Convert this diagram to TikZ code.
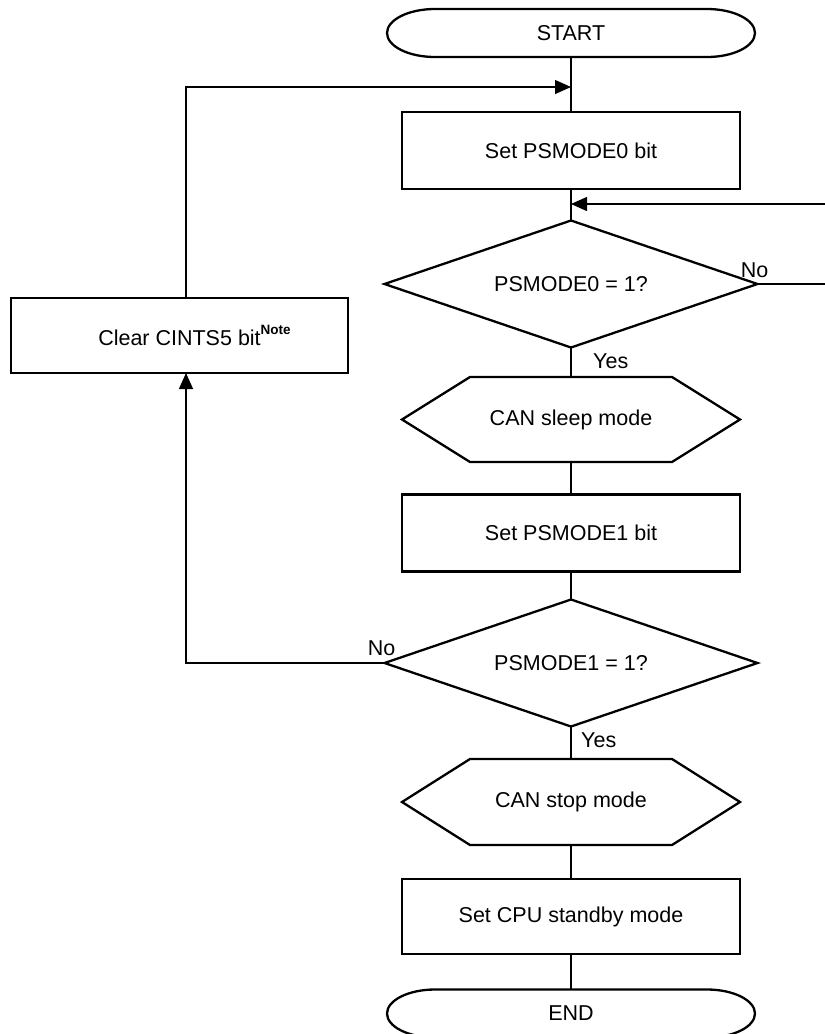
\documentclass[tikz,border=0pt]{standalone}
\usepackage{fontspec}
\setmainfont{Liberation Sans}
\usetikzlibrary{shapes.geometric,arrows.meta,calc}
\newcommand\hexdraw[1]{\draw[shapeline] ([xshift=68pt]#1.north west) -- ([xshift=-68pt]#1.north east) -- (#1.east) -- ([xshift=-68pt]#1.south east) -- ([xshift=68pt]#1.south west) -- (#1.west) -- cycle;}
\newcommand\termdraw[1]{\draw[shapeline] ([xshift=48pt]#1.north west) -- ([xshift=-48pt]#1.north east) arc[start angle=90,end angle=-90,x radius=48pt,y radius=24pt] -- ([xshift=48pt]#1.south west) arc[start angle=270,end angle=90,x radius=48pt,y radius=24pt] -- cycle;}
\tikzset{
  txt/.style={font=\fontsize{21.5}{25}\selectfont},
  shapeline/.style={line width=2.3pt, line join=miter},
  procbox/.style={txt, draw, shapeline, minimum width=338pt, minimum height=77pt, inner sep=0pt, outer sep=0pt},
  decide/.style={txt, diamond, draw, shapeline, minimum width=373pt, minimum height=127pt, aspect=2.9, inner sep=0pt, outer sep=0pt},
  hexbox/.style={txt, minimum width=338pt, minimum height=85pt, inner sep=0pt, outer sep=0pt},
  termbox/.style={txt, minimum width=368pt, minimum height=48pt, inner sep=0pt, outer sep=0pt},
  conn/.style={line width=1.3pt},
  arr/.style={conn, -{Triangle[length=16pt,width=14pt]}},
  lbl/.style={txt, inner sep=0pt}
}
\begin{document}
\begin{tikzpicture}[x=1pt,y=-1pt]
\useasboundingbox (0,0) rectangle (825,1034);
% nodes
\node[termbox] (start) at (571,33) {START};
\node[procbox] (box1) at (571,150.5) {Set PSMODE0 bit};
\node[decide] (d1) at (571,284) {PSMODE0 = 1?};
\node[hexbox] (hex1) at (571,419.5) {CAN sleep mode};
\node[procbox] (box2) at (571,533) {Set PSMODE1 bit};
\node[decide] (d2) at (571,663) {PSMODE1 = 1?};
\node[hexbox, minimum height=86pt] (hex2) at (571,802) {CAN stop mode};
\node[procbox, minimum height=75pt] (box3) at (571,916.5) {Set CPU standby mode};
\node[termbox] (end) at (571,1013.5) {END};
\node[procbox, minimum width=337pt, minimum height=75pt] (clear) at (179.5,335.5) {Clear CINTS5 bit\rlap{\raisebox{11pt}{\fontsize{13.5}{13.5}\selectfont\bfseries Note}}};
\termdraw{start}
\termdraw{end}
\hexdraw{hex1}
\hexdraw{hex2}
% coordinates
\coordinate (j1) at (571,87);
\coordinate (lt) at (186,87);
\coordinate (j2) at (571,204);
\coordinate (rr) at (828,204);
% main flow
\draw[conn] (start.south) -- (box1.north);
\draw[conn] (box1.south) -- (d1.north);
\draw[conn] (d1.south) -- (hex1.north);
\draw[conn] (hex1.south) -- (box2.north);
\draw[conn] (box2.south) -- (d2.north);
\draw[conn] (d2.south) -- (hex2.north);
\draw[conn] (hex2.south) -- (box3.north);
\draw[conn] (box3.south) -- (end.north);
% loops
\draw[arr] (d1.east) -| (rr) -- (j2);
\draw[arr] (d2.west) -| (lt |- clear.south);
\draw[arr] (lt |- clear.north) |- (j1);
% labels
\node[lbl, anchor=base] (no1) at ([shift={(-3pt,7pt)}]d1.east) {No};
\node[lbl, anchor=base] (no2) at ([shift={(-3pt,8pt)}]d2.west) {No};
\node[lbl, anchor=base west] (yes1) at ([shift={(22pt,-21pt)}]d1.south) {Yes};
\node[lbl, anchor=base west] (yes2) at ([shift={(10pt,-21pt)}]d2.south) {Yes};
\end{tikzpicture}
\end{document}
